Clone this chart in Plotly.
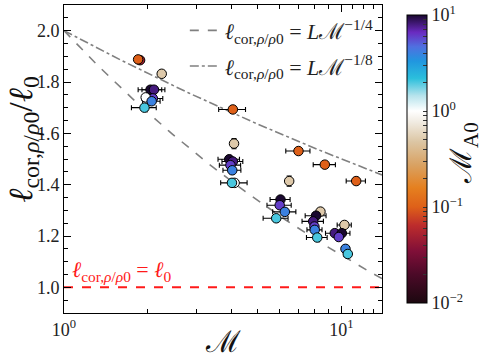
import numpy as np
import plotly.graph_objects as go

# ---------------- data ----------------
mach = [1.88, 1.85, 2.25, 2.05, 2.11, 2.09, 1.97, 2.07, 1.95,
        4.06, 4.10, 3.94, 4.06, 3.98, 4.04, 4.12, 4.03,
        7.00, 6.48, 6.03, 5.99, 6.25, 5.82,
        8.71, 8.40, 8.10, 7.91, 7.99, 8.01, 8.18,
        11.3, 10.25, 9.46, 10.03, 9.78, 10.34, 10.54]
ell_ratio = [1.885, 1.888, 1.832, 1.770, 1.770, 1.736, 1.740, 1.725, 1.700,
             1.693, 1.560, 1.499, 1.490, 1.476, 1.456, 1.407, 1.407,
             1.531, 1.414, 1.342, 1.320, 1.294, 1.269,
             1.478, 1.295, 1.279, 1.257, 1.237, 1.224, 1.194,
             1.414, 1.243, 1.211, 1.211, 1.196, 1.150, 1.130]
mach_a0 = [0.05, 0.1, 0.5, 10, 8, 6, 1, 4, 2,
           0.1, 0.5, 10, 8, 6, 4, 1, 2,
           0.1, 0.5, 10, 6, 4, 2,
           0.1, 0.5, 10, 8, 6, 4, 2,
           0.1, 0.5, 8, 10, 6, 4, 2]
mach_err = [0, 0, 0, 0.2, 0.2, 0.18, 0, 0.15, 0.2,
            0.45, 0, 0.35, 0.35, 0.35, 0.3, 0.45, 0,
            0.7, 0, 0.5, 0.6, 0.6, 0.6,
            0.8, 0, 0.7, 0.7, 0, 0.5, 0.7,
            0.9, 0.6, 0.7, 0.7, 0, 0, 0]
ell_err = [0, 0, 0, 0.01, 0.01, 0.01, 0, 0.01, 0.01,
           0, 0.02, 0.01, 0.01, 0.01, 0.01, 0.01, 0.01,
           0, 0.02, 0.01, 0.01, 0.01, 0.01,
           0, 0.01, 0.01, 0.01, 0.01, 0.01, 0.01,
           0, 0.01, 0.01, 0.01, 0.01, 0.015, 0.01]

L_norm = 2.0
exponents = [-1 / 4, -1 / 8]
mach_range = [1.0, 14.0]

x_ticks = [1, 10]
x_ticktext = ["10<sup>0</sup>", "10<sup>1</sup>"]
y_ticks = [1.0, 1.2, 1.4, 1.6, 1.8, 2.0]
cb_major = [-2, -1, 0, 1]
cb_ticktext = ["10<sup>−2</sup>", "10<sup>−1</sup>", "10<sup>0</sup>", "10<sup>1</sup>"]

colorscale = [
    [0.00, "#1c0810"], [0.10, "#4c0a28"], [0.18, "#800f38"],
    [0.27, "#bd2c2c"], [0.333, "#de6019"], [0.40, "#e5801f"],
    [0.48, "#d9a263"], [0.56, "#dcc6a4"], [0.63, "#f1ece3"],
    [0.667, "#ffffff"], [0.72, "#b6e3ec"], [0.78, "#2bbfdc"],
    [0.84, "#2196df"], [0.89, "#5070e0"], [0.94, "#6a2ac0"],
    [1.00, "#1a0830"],
]

FONT = "Liberation Serif, DejaVu Serif, serif"

fig = go.Figure()

mline = np.logspace(np.log10(mach_range[0]), np.log10(mach_range[1]), 80)
labels = ["<i>ℓ</i><sub>cor,<i>ρ</i>/<i>ρ</i>0</sub> = <i>L</i>ℳ<sup>−1/4</sup>",
          "<i>ℓ</i><sub>cor,<i>ρ</i>/<i>ρ</i>0</sub> = <i>L</i>ℳ<sup>−1/8</sup>"]
dashes = ["dash", "dashdot"]
for i, (ex, lab, dsh) in enumerate(zip(exponents, labels, dashes)):
    fig.add_trace(go.Scatter(
        x=mline, y=L_norm * mline ** ex, mode="lines",
        line=dict(color="#808080", width=1.6, dash=dsh),
        name=lab, legendgroup=f"g{i}", showlegend=True))

fig.add_trace(go.Scatter(
    x=mach_range, y=[1.0, 1.0], mode="lines",
    line=dict(color="#ff1a1a", width=2, dash="dash"), showlegend=False))

fig.add_trace(go.Scatter(
    x=mach, y=ell_ratio, mode="markers", showlegend=False,
    error_x=dict(type="data", array=mach_err, color="black", thickness=1.1, width=2.5),
    error_y=dict(type="data", array=ell_err, color="black", thickness=1.1, width=2.5),
    marker=dict(size=9.5, color=np.log10(mach_a0), colorscale=colorscale,
                cmin=-2, cmax=1, line=dict(color="black", width=1),
                colorbar=dict(
                    x=1.047, xanchor="left", y=0.5, yanchor="middle",
                    len=1.0, lenmode="fraction", thickness=20,
                    outlinecolor="black", outlinewidth=1,
                    tickmode="array",
                    tickvals=cb_major + [np.log10(v) + d for d in (-2, -1, 0) for v in range(2, 10)],
                    ticktext=cb_ticktext + [""] * 24,
                    ticks="inside", ticklen=4, tickcolor="#333",
                    tickfont=dict(family=FONT, size=18, color="#222"),
                ))))

fig.add_annotation(x=np.log10(1.05), y=1.065, xref="x", yref="y",
                   text="<i>ℓ</i><sub>cor,<i>ρ</i>/<i>ρ</i>0</sub> = <i>ℓ</i><sub>0</sub>",
                   showarrow=False, xanchor="left", yanchor="middle",
                   font=dict(family=FONT, size=22, color="#ff1a1a"))

# axis / colorbar titles as annotations for exact placement
fig.add_annotation(x=0.5, y=-0.092, xref="paper", yref="paper", text="ℳ",
                   showarrow=False, xanchor="center", yanchor="middle",
                   font=dict(family=FONT, size=30, color="#111"))
fig.add_annotation(x=-0.13, y=0.565, xref="paper", yref="paper",
                   text="<i>ℓ</i><sub>cor,<i>ρ</i>/<i>ρ</i>0</sub>/<i>ℓ</i><sub>0</sub>",
                   textangle=-90, showarrow=False, xanchor="center", yanchor="middle",
                   font=dict(family=FONT, size=34, color="#111"))
fig.add_annotation(x=1.255, y=0.52, xref="paper", yref="paper",
                   text="ℳ<sub>A0</sub>",
                   textangle=-90, showarrow=False, xanchor="center", yanchor="middle",
                   font=dict(family=FONT, size=30, color="#111"))

axis_common = dict(showline=True, linecolor="black", linewidth=1, mirror="allticks",
                   ticks="inside", tickcolor="black", showgrid=False, zeroline=False,
                   tickfont=dict(family=FONT, size=18, color="#222"))

fig.update_xaxes(type="log", range=[0, np.log10(14)], tickmode="array",
                 tickvals=x_ticks, ticktext=x_ticktext, ticklen=7,
                 minor=dict(tickmode="array", tickvals=[2, 3, 4, 5, 6, 7, 8, 9, 11, 12, 13, 14],
                            ticks="inside", ticklen=4, tickcolor="black"),
                 **axis_common)
fig.update_yaxes(range=[0.9, 2.1], tickmode="array", tickvals=y_ticks,
                 ticktext=[f"{v:.1f}" for v in y_ticks], ticklen=7,
                 minor=dict(dtick=0.05, tick0=0, ticks="inside", ticklen=4, tickcolor="black"),
                 **axis_common)

fig.update_layout(
    width=484, height=360,
    margin=dict(l=64, r=102, t=5, b=47, autoexpand=False),
    paper_bgcolor="white", plot_bgcolor="white",
    legend=dict(x=0.99, xanchor="right", y=0.985, yanchor="top",
                bgcolor="rgba(0,0,0,0)", tracegroupgap=4,
                font=dict(family=FONT, size=22, color="#222")),
)

fig.write_html("out.html", config={"displayModeBar": False},
               post_script="document.body.style.margin='0';document.body.style.padding='0';")
